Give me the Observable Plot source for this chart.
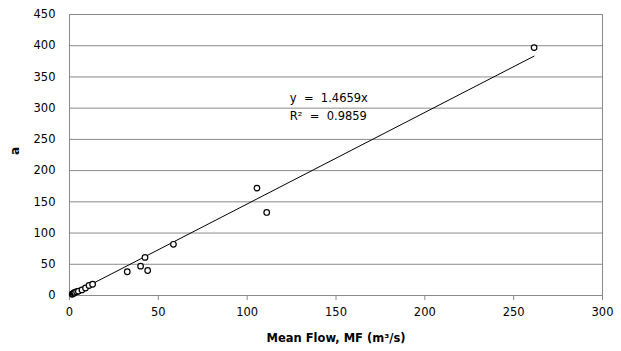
<!DOCTYPE html>
<html>
<head>
<meta charset="utf-8">
<script src="https://cdn.jsdelivr.net/npm/d3@7"></script>
<script src="https://cdn.jsdelivr.net/npm/@observablehq/plot@0.6"></script>
<style>
  html, body { margin: 0; padding: 0; background: #fff; }
  svg { display: block; }
</style>
</head>
<body>
<div id="chart"></div>
<script>
// Observed points: mean flow MF (m3/s) vs parameter a
const meanFlow = [1.5, 2, 2.5, 3, 4, 5, 7, 9, 11, 13, 32.5, 40, 42.5, 44, 58.5, 105.5, 111, 261.5];
const aValues  = [2, 3, 4, 5, 6, 7, 9, 12, 16, 18, 38, 47, 61, 40, 82, 172, 133, 397];

// Fitted trend line (through origin)
const slope = 1.4659;
const rSquared = 0.9859;
const trendX = [0, 261.5];

const xTicks = [0, 50, 100, 150, 200, 250, 300];
const yTicks = [0, 50, 100, 150, 200, 250, 300, 350, 400, 450];

const points = meanFlow.map((x, i) => ({x, y: aValues[i]}));
const trend = trendX.map(x => ({x, y: slope * x}));
const labels = [
  {x: 124, y: 316, text: `y  =  ${slope}x`},
  {x: 124, y: 287, text: `R²  =  ${rSquared}`}
];

const font = "'DejaVu Sans', sans-serif";

const chart = Plot.plot({
  width: 621,
  height: 351,
  marginLeft: 69,
  marginRight: 19,
  marginTop: 14,
  marginBottom: 56,
  style: {fontFamily: font, fontSize: "11.5px", color: "#000", background: "#fff"},
  x: {domain: [0, 300], ticks: xTicks},
  y: {domain: [0, 450], ticks: yTicks},
  marks: [
    Plot.gridY(yTicks, {stroke: "#8a8a8a", strokeOpacity: 1}),
    Plot.frame({stroke: "#8a8a8a"}),
    Plot.axisX(xTicks, {tickSize: 5, tickPadding: 7, stroke: "#8a8a8a", label: null, fontSize: 11.5}),
    Plot.axisY(yTicks, {tickSize: 0, tickPadding: 14, label: null, fontSize: 11.5}),
    Plot.line(trend, {x: "x", y: "y", stroke: "#000", strokeWidth: 1}),
    Plot.dot(points, {x: "x", y: "y", r: 2.8, stroke: "#000", strokeWidth: 1.2, fill: "#fff"}),
    Plot.text(labels, {x: "x", y: "y", text: "text", textAnchor: "start", fontSize: 11.5, fill: "#000"}),
    Plot.text(["Mean Flow, MF (m³/s)"], {frameAnchor: "bottom", dy: 46, fontWeight: "bold", fontSize: 11.5, fill: "#000"}),
    Plot.text(["a"], {frameAnchor: "left", dx: -54, rotate: -90, fontWeight: "bold", fontSize: 12, fill: "#000"})
  ]
});

document.getElementById("chart").appendChild(chart);
</script>
</body>
</html>
